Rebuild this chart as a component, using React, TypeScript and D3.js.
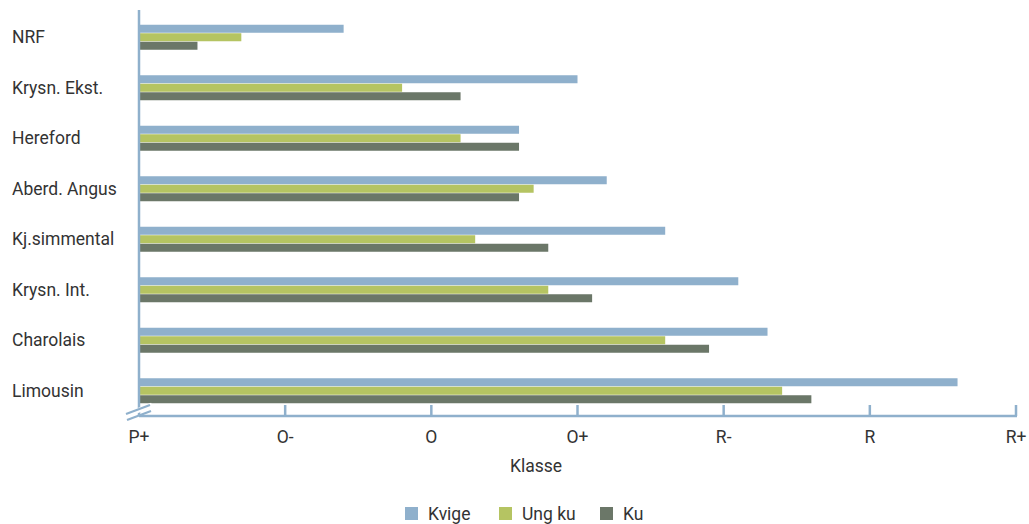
import React from "react";
import * as d3 from "d3";

const categories = ["NRF", "Krysn. Ekst.", "Hereford", "Aberd. Angus", "Kj.simmental", "Krysn. Int.", "Charolais", "Limousin"];
const seriesNames = ["Kvige", "Ung ku", "Ku"];
const kvige = [4.4, 6.0, 5.6, 6.2, 6.6, 7.1, 7.3, 8.6];
const ungKu = [3.7, 4.8, 5.2, 5.7, 5.3, 5.8, 6.6, 7.4];
const ku = [3.4, 5.2, 5.6, 5.6, 5.8, 6.1, 6.9, 7.6];
const tickValues = [3, 4, 5, 6, 7, 8, 9];
const tickLabels = ["P+", "O-", "O", "O+", "R-", "R", "R+"];
const colors = ["#8fb0cc", "#b5c462", "#6b7768"];

const W = 1029;
const H = 524;
const left = 139;
const right = 1016;
const top = 12;
const bottom = 416;
const font = "Roboto, 'DejaVu Sans', sans-serif";
const fs = 17.5;
const textColor = "#333";
const axisColor = "#8fb0cc";

export default function App() {
  const x = d3.scaleLinear().domain([3, 9]).range([left, right]);
  const y = d3.scaleBand<string>().domain(categories).range([top, bottom]);
  const step = y.step();
  const barH = 8;
  const series = [kvige, ungKu, ku];
  const legendX = [405, 499, 600];

  return (
    <svg width={W} height={H} style={{ position: "absolute", left: 0, top: 0, background: "#fff" }}>
      {categories.map((c, i) => {
        const cy = (y(c) as number) + step / 2;
        const y0 = cy - (barH * 3 + 1) / 2;
        return (
          <g key={c}>
            {series.map((s, j) => (
              <rect
                key={j}
                x={left}
                y={y0 + j * (barH + 0.5)}
                width={x(s[i]) - left}
                height={barH}
                fill={colors[j]}
              />
            ))}
            <text x={12} y={cy} dy="0.35em" fontFamily={font} fontSize={fs} fill={textColor}>
              {c}
            </text>
          </g>
        );
      })}
      <line x1={left} x2={left} y1={10} y2={bottom} stroke={axisColor} strokeWidth={2.5} />
      <line x1={left} x2={right + 1} y1={bottom} y2={bottom} stroke={axisColor} strokeWidth={2.5} />
      {tickValues.map((t, i) => (
        <g key={t}>
          {i > 0 && <line x1={x(t)} x2={x(t)} y1={bottom - 11} y2={bottom} stroke={axisColor} strokeWidth={2.5} />}
          <text x={x(t)} y={437} dy="0.35em" textAnchor="middle" fontFamily={font} fontSize={fs} fill={textColor}>
            {tickLabels[i]}
          </text>
        </g>
      ))}
      <line x1={124} x2={152} y1={416} y2={405} stroke="#fff" strokeWidth={5} />
      <line x1={126} x2={150} y1={414} y2={405} stroke={axisColor} strokeWidth={2.2} />
      <line x1={127} x2={151} y1={420} y2={411} stroke={axisColor} strokeWidth={2.2} />
      <text x={536} y={466} dy="0.35em" textAnchor="middle" fontFamily={font} fontSize={fs} fill={textColor}>
        Klasse
      </text>
      {seriesNames.map((n, j) => (
        <g key={n}>
          <rect x={legendX[j]} y={507} width={13} height={13} fill={colors[j]} />
          <text x={legendX[j] + 23} y={514} dy="0.35em" fontFamily={font} fontSize={fs} fill={textColor}>
            {n}
          </text>
        </g>
      ))}
    </svg>
  );
}
